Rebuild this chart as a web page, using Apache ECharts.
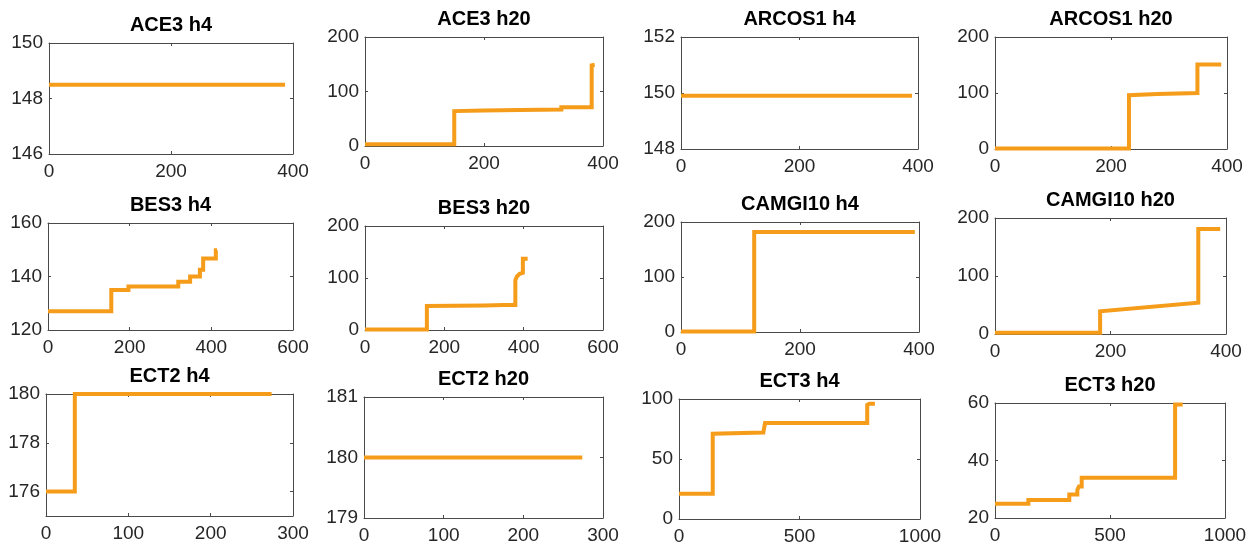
<!DOCTYPE html>
<html>
<head>
<meta charset="utf-8">
<script src="https://cdn.jsdelivr.net/npm/echarts@6/dist/echarts.min.js"></script>
<style>
  html, body { margin: 0; padding: 0; background: #fff; }
  #chart { width: 1255px; height: 549px; }
</style>
</head>
<body>
<div id="chart"></div>
<script>
// ---------- DATA ----------
const titles = ['ACE3 h4', 'ACE3 h20', 'ARCOS1 h4', 'ARCOS1 h20',
                'BES3 h4', 'BES3 h20', 'CAMGI10 h4', 'CAMGI10 h20',
                'ECT2 h4', 'ECT2 h20', 'ECT3 h4', 'ECT3 h20'];

const ace3H4X = [0, 387];
const ace3H4Y = [148.5, 148.5];

const ace3H20X = [0, 150, 150, 200, 260, 330, 330, 381, 381, 386];
const ace3H20Y = [3, 3, 64, 65, 66, 67, 71, 71, 148, 149];

const arcos1H4X = [0, 390];
const arcos1H4Y = [149.9, 149.9];

const arcos1H20X = [0, 231, 231, 280, 349, 349, 390];
const arcos1H20Y = [1, 1, 96, 98, 100, 151, 151];

const bes3H4X = [0, 155, 155, 197, 197, 319, 319, 348, 348, 372, 372, 380, 380, 411, 411, 414];
const bes3H4Y = [127, 127, 135, 135, 136.3, 136.3, 138, 138, 140, 140, 142.5, 142.5, 146.7, 146.7, 149.8, 149.8];

const bes3H20X = [0, 156, 156, 300, 350, 379, 379, 383, 390, 398, 398, 410];
const bes3H20Y = [1, 1, 46, 47, 48, 48, 96, 103, 108, 110, 137, 137];

const camgi10H4X = [0, 123, 123, 393];
const camgi10H4Y = [1, 1, 182, 182];

const camgi10H20X = [0, 182, 182, 352, 352, 390];
const camgi10H20Y = [2, 2, 39, 54, 181, 181];

const ect2H4X = [0, 35, 35, 274];
const ect2H4Y = [176, 176, 180, 180];

const ect2H20X = [0, 274];
const ect2H20Y = [180, 180];

const ect3H4X = [0, 140, 140, 350, 357, 357, 781, 781, 790, 813];
const ect3H4Y = [21, 21, 71, 72, 72, 80, 80, 95, 96, 96];

const ect3H20X = [0, 145, 145, 323, 323, 358, 358, 365, 377, 377, 783, 783, 816];
const ect3H20Y = [25, 25, 26.3, 26.3, 28.2, 28.2, 29.8, 31, 31, 34, 34, 59.5, 59.5];

const seriesX = [ace3H4X, ace3H20X, arcos1H4X, arcos1H20X, bes3H4X, bes3H20X,
                 camgi10H4X, camgi10H20X, ect2H4X, ect2H20X, ect3H4X, ect3H20X];
const seriesY = [ace3H4Y, ace3H20Y, arcos1H4Y, arcos1H20Y, bes3H4Y, bes3H20Y,
                 camgi10H4Y, camgi10H20Y, ect2H4Y, ect2H20Y, ect3H4Y, ect3H20Y];

// tick labels
const xTicks = [
  [0, 200, 400], [0, 200, 400], [0, 200, 400], [0, 200, 400],
  [0, 200, 400, 600], [0, 200, 400, 600], [0, 200, 400], [0, 200, 400],
  [0, 100, 200, 300], [0, 100, 200, 300], [0, 500, 1000], [0, 500, 1000]
];
const yTicks = [
  [146, 148, 150], [0, 100, 200], [148, 150, 152], [0, 100, 200],
  [120, 140, 160], [0, 100, 200], [0, 100, 200], [0, 100, 200],
  [176, 178, 180], [179, 180, 181], [0, 50, 100], [20, 40, 60]
];
const yMin = [146, 0, 148, 0, 120, 0, 0, 0, 175, 179, 0, 20];
const yMax = [150, 200, 152, 200, 160, 200, 200, 200, 180, 181, 100, 60];

// ---------- LAYOUT ----------
const boxes = [
  [49, 43, 244, 111], [365, 37, 238, 109], [681, 37, 237, 112], [995, 37, 232, 112],
  [48, 223, 245, 107], [365, 226, 238, 104], [681, 222, 238, 110], [995, 218, 231, 116],
  [46, 394, 247, 122], [364, 397, 239, 121], [679, 399, 241, 120], [995, 403, 230, 115]
];

const FONT = '"Liberation Sans", Arial, sans-serif';
const AXIS_COLOR = '#4a4a4a';
const LABEL_COLOR = '#262626';
const LINE_COLOR = '#F59C1A';
const plain = (v) => String(v);

const grids = [], xAxes = [], yAxes = [], series = [], graphics = [];

boxes.forEach((b, i) => {
  const [l, t, w, h] = b;
  grids.push({ left: l, top: t, width: w, height: h, containLabel: false });
  const xr = xTicks[i];
  const xMin = xr[0], xMax = xr[xr.length - 1];
  const axisLine = { show: true, onZero: false, lineStyle: { color: AXIS_COLOR, width: 1 } };
  const tick = (vals) => ({ show: true, inside: true, length: 3, customValues: vals, lineStyle: { color: AXIS_COLOR } });
  xAxes.push({
    type: 'value', gridIndex: i, position: 'bottom', min: xMin, max: xMax,
    axisLine: axisLine, axisTick: tick(xr), splitLine: { show: false },
    axisLabel: { show: true, customValues: xr, formatter: plain, margin: 8, fontSize: 19, color: LABEL_COLOR, fontFamily: FONT }
  });
  xAxes.push({
    type: 'value', gridIndex: i, position: 'top', min: xMin, max: xMax,
    axisLine: axisLine, axisTick: tick(xr), splitLine: { show: false },
    axisLabel: { show: false }
  });
  const yr = yTicks[i];
  yAxes.push({
    type: 'value', gridIndex: i, position: 'left', min: yMin[i], max: yMax[i],
    axisLine: axisLine, axisTick: tick(yr), splitLine: { show: false },
    axisLabel: { show: true, customValues: yr, formatter: plain, margin: 6, fontSize: 19, color: LABEL_COLOR, fontFamily: FONT }
  });
  yAxes.push({
    type: 'value', gridIndex: i, position: 'right', min: yMin[i], max: yMax[i],
    axisLine: axisLine, axisTick: tick(yr), splitLine: { show: false },
    axisLabel: { show: false }
  });
  series.push({
    type: 'line', xAxisIndex: 2 * i, yAxisIndex: 2 * i,
    data: seriesX[i].map((x, k) => [x, seriesY[i][k]]),
    showSymbol: false, symbol: 'none', clip: true, animation: false,
    lineStyle: { color: LINE_COLOR, width: 4, cap: 'butt', join: 'miter' }
  });
  graphics.push({
    type: 'text', x: l + w / 2, y: t - 18,
    style: { text: titles[i], font: 'bold 20px ' + FONT, fill: '#000', align: 'center', verticalAlign: 'middle' }
  });
});

const chart = echarts.init(document.getElementById('chart'), null, { renderer: 'canvas' });
chart.setOption({
  animation: false,
  backgroundColor: '#ffffff',
  grid: grids,
  xAxis: xAxes,
  yAxis: yAxes,
  series: series,
  graphic: graphics
});
</script>
</body>
</html>
